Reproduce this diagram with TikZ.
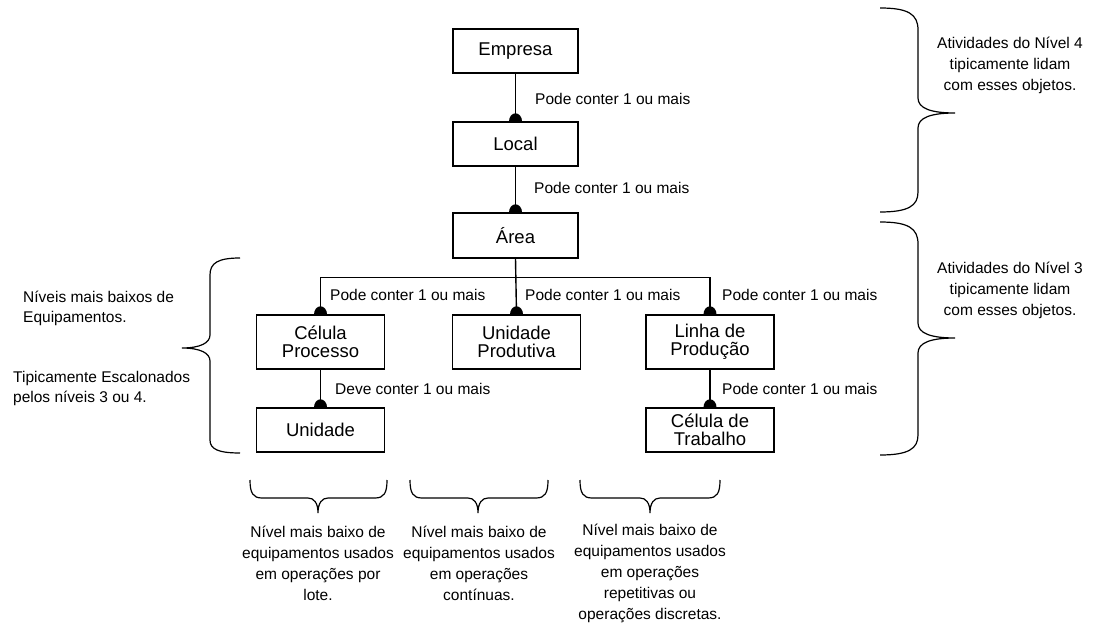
\documentclass[tikz,border=0pt]{standalone}
\usepackage{fontspec}
\setmainfont{Liberation Sans}
\usetikzlibrary{backgrounds}
\begin{document}
\begin{tikzpicture}[x=1pt,y=-1pt,
  box/.style={draw,line width=1.4pt,fill=white,inner sep=0pt,align=center,
    font=\fontsize{18.5}{18}\selectfont},
  lbl/.style={inner sep=0pt,anchor=base west,font=\fontsize{15.5}{20}\selectfont},
  note/.style={inner sep=0pt,align=center,font=\fontsize{15.5}{21}\selectfont},
  lnote/.style={inner sep=0pt,align=left,anchor=west,font=\fontsize{15.5}{20}\selectfont},
  link/.style={line width=1.4pt},
  brace/.style={line width=1.2pt},
  knob/.style={fill=black}]
\useasboundingbox (0,0) rectangle (1099,628);

% hierarchy boxes
\node[box,minimum width=125,minimum height=44] (emp) at (515.5,51) {Empresa};
\node[box,minimum width=125,minimum height=44] (loc) at (515.5,144) {Local};
\node[box,minimum width=125,minimum height=45] (area) at (515.5,235.5) {Área};
\node[box,minimum width=128,minimum height=54] (cproc) at (320.5,342) {Célula\\Processo};
\node[box,minimum width=128,minimum height=54] (uprod) at (516.5,342) {Unidade\\Produtiva};
\node[box,minimum width=128,minimum height=54] (linha) at (710,342) {Linha de\\Produção};
\node[box,minimum width=128,minimum height=44] (unid) at (320.5,430) {Unidade};
\node[box,minimum width=128,minimum height=44] (ctrab) at (710,430) {Célula de\\Trabalho};

% connectors with the "one or more" knobs
\begin{scope}[on background layer]
  \draw[link] (emp.south) -- (loc.north);
  \draw[link] (loc.south) -- (area.north);
  \draw[link] (area.south) -- (uprod.north);
  \draw[link] (cproc.north) -- ++(0,-37) -| (linha.north);
  \draw[link] (cproc.south) -- (unid.north);
  \draw[link] (linha.south) -- (ctrab.north);
  \foreach \n in {loc,area,cproc,uprod,linha,unid,ctrab}
    \fill[knob] (\n.north) ellipse (6.5 and 8);
\end{scope}

% connector labels
\node[lbl] (l1) at (535,105) {Pode conter 1 ou mais};
\node[lbl] (l2) at (534,194) {Pode conter 1 ou mais};
\node[lbl] (l3) at (330,300) {Pode conter 1 ou mais};
\node[lbl] (l4) at (525,300) {Pode conter 1 ou mais};
\node[lbl] (l5) at (722,300) {Pode conter 1 ou mais};
\node[lbl] (l6) at (335,394) {Deve conter 1 ou mais};
\node[lbl] (l7) at (722,394) {Pode conter 1 ou mais};

% right braces
\draw[brace] (880,8) .. controls (908,8) and (918,14) .. (918,30) -- (918,98)
  .. controls (918,108) and (930,113) .. (955,113)
  .. controls (930,113) and (918,118) .. (918,128) -- (918,192)
  .. controls (918,206) and (908,212) .. (880,212);
\draw[brace] (880,222) .. controls (908,222) and (918,228) .. (918,244) -- (918,323)
  .. controls (918,333) and (930,338) .. (955,338)
  .. controls (930,338) and (918,343) .. (918,353) -- (918,435)
  .. controls (918,449) and (908,455) .. (880,455);
\node[note] (n4) at (1010,65) {Atividades do Nível 4\\tipicamente lidam\\com esses objetos.};
\node[note] (n3) at (1010,290) {Atividades do Nível 3\\tipicamente lidam\\com esses objetos.};

% left brace
\draw[brace] (240,258) .. controls (218,258) and (210,263) .. (210,275) -- (210,335)
  .. controls (210,343) and (200,348) .. (182,348)
  .. controls (200,348) and (210,353) .. (210,361) -- (210,440)
  .. controls (210,449) and (218,453) .. (240,453);
\node[lnote] (e1) at (23,308) {Níveis mais baixos de\\Equipamentos.};
\node[lnote] (e2) at (13,388) {Tipicamente Escalonados\\pelos níveis 3 ou 4.};

% bottom braces
\foreach \a/\t/\b in {250/318/387, 410/478/548, 580/650/720}{
  \draw[brace] (\a,480) .. controls (\a,493) and (\a+3,498) .. (\a+12,498) -- (\t-10,498)
    .. controls (\t-4,498) and (\t,503) .. (\t,513)
    .. controls (\t,503) and (\t+4,498) .. (\t+10,498) -- (\b-12,498)
    .. controls (\b-3,498) and (\b,493) .. (\b,480);
}
\node[note] (b1) at (318,563) {Nível mais baixo de\\equipamentos usados\\em operações por\\lote.};
\node[note] (b2) at (479,563) {Nível mais baixo de\\equipamentos usados\\em operações\\contínuas.};
\node[note] (b3) at (650,573.5) {Nível mais baixo de\\equipamentos usados\\em operações\\repetitivas ou\\operações discretas.};
\end{tikzpicture}
\end{document}
